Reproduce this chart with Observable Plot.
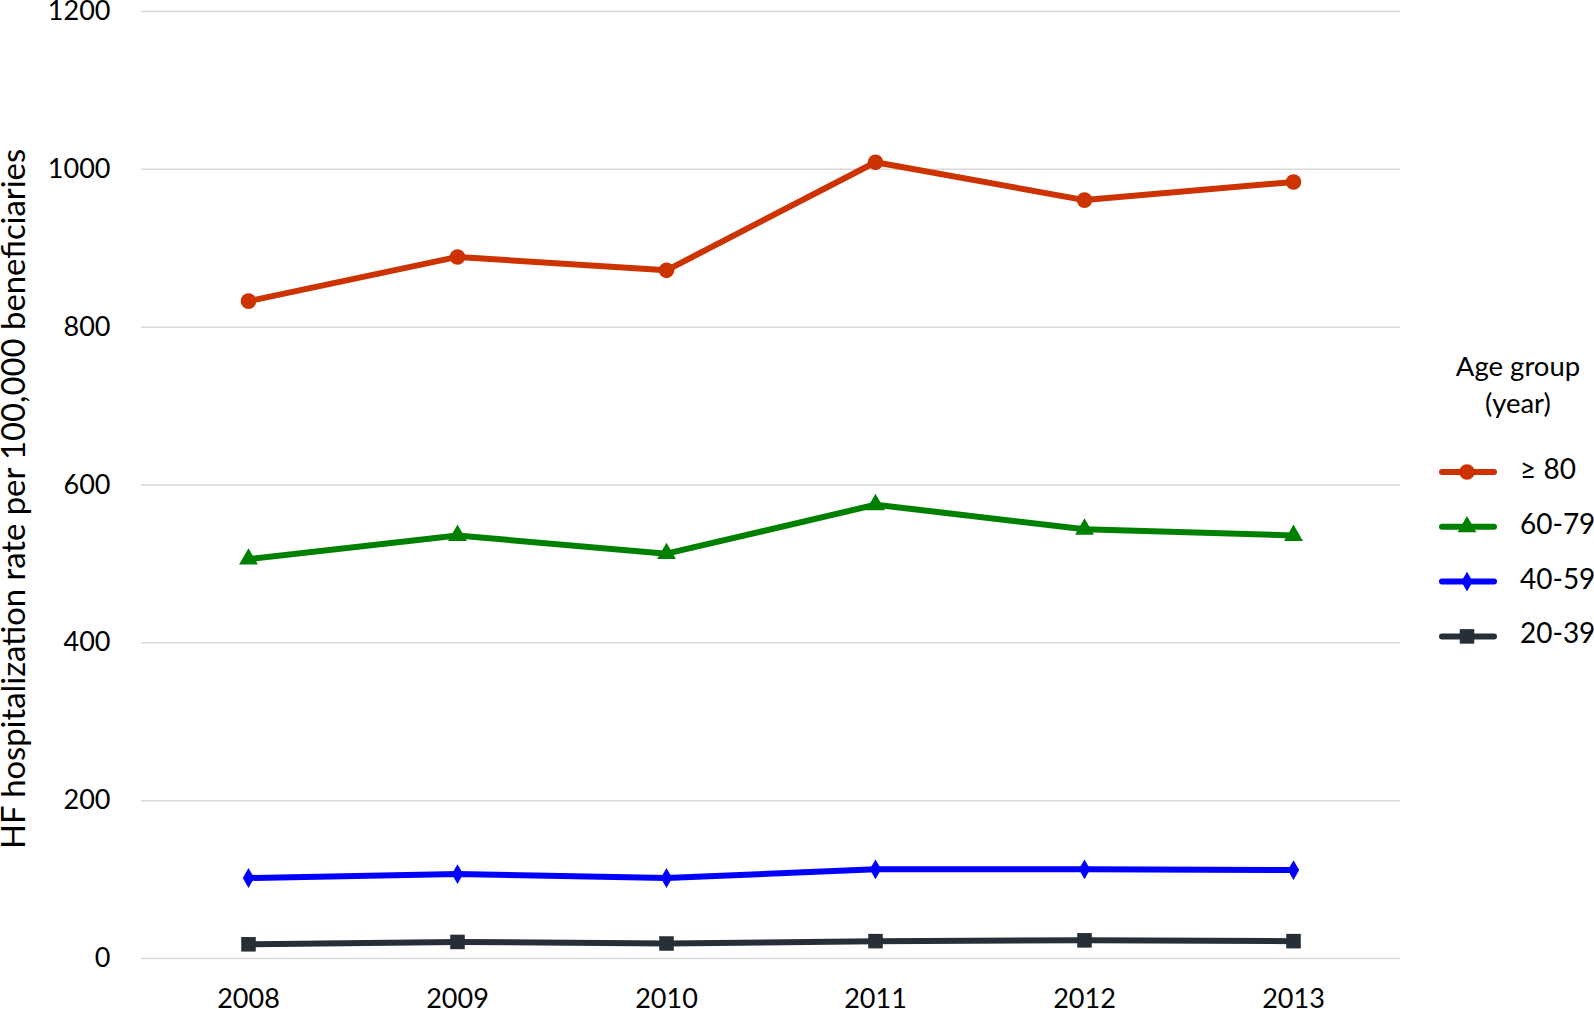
<!DOCTYPE html>
<html>
<head>
<meta charset="utf-8">
<script src="https://cdn.jsdelivr.net/npm/d3@7"></script>
<script src="https://cdn.jsdelivr.net/npm/@observablehq/plot@0.6"></script>
<style>
  body { margin: 0; background: #fff; }
  #wrap { position: relative; width: 1594px; height: 1009px; overflow: hidden; font-family: Lato, "Open Sans", sans-serif; }
  #legend { position: absolute; left: 1420px; top: 330px; }
</style>
</head>
<body>
<div id="wrap"></div>
<script>
// ---- data ----
const years = ["2008", "2009", "2010", "2011", "2012", "2013"];
const ge80   = [833, 889, 872, 1009, 961, 984];
const a60_79 = [506, 536, 513, 575, 544, 536];
const a40_59 = [102, 107, 102, 113, 113, 112];
const a20_39 = [18, 21, 19, 22, 23, 22];
const groupNames  = ["≥ 80", "60-79", "40-59", "20-39"];
const groupColors = ["#CC3300", "#008000", "#0000FF", "#262E38"];
const groupSymbols = ["circle", "triangle", "diamond", "square"];
const groupR = [7.8, 7, 6, 8.2];
const yTicks = [0, 200, 400, 600, 800, 1000, 1200];
const yLabel = "HF hospitalization rate per 100,000 beneficiaries";
const legendTitle = ["Age group", "(year)"];

const seriesValues = [ge80, a60_79, a40_59, a20_39];
const series = groupNames.map((name, k) => ({
  name,
  color: groupColors[k],
  symbol: groupSymbols[k],
  r: groupR[k],
  rows: years.map((yr, i) => ({year: yr, value: seriesValues[k][i], group: name}))
}));

const marks = [
  Plot.gridY(yTicks, {stroke: "#d9d9d9", strokeOpacity: 1, strokeWidth: 1.5}),
  Plot.axisY(yTicks, {tickSize: 0, tickPadding: 31, label: null, fontSize: 27, tickFormat: d => String(d)}),
  Plot.axisX({tickSize: 0, tickPadding: 30, label: null, fontSize: 27}),
  Plot.text([yLabel], {frameAnchor: "left", textAnchor: "middle", rotate: -90, dx: -127, dy: 14, fontSize: 32.8, fill: "#000", text: d => d})
];
for (const s of series) {
  marks.push(Plot.line(s.rows, {x: "year", y: "value", stroke: s.color, strokeWidth: 6}));
  marks.push(Plot.dot(s.rows, {x: "year", y: "value", fill: s.color, symbol: s.symbol, r: s.r, stroke: "none"}));
}

const chart = Plot.plot({
  width: 1594,
  height: 1009,
  marginLeft: 141,
  marginRight: 194,
  marginTop: 11,
  marginBottom: 51,
  style: {fontFamily: "Lato, 'Open Sans', sans-serif", color: "#000", background: "#fff", overflow: "visible"},
  x: {type: "point", domain: years, padding: 0.5},
  y: {domain: [0, 1200]},
  marks
});
document.getElementById("wrap").appendChild(chart);

// ---- legend ----
const lg = d3.select("#wrap").append("svg")
  .attr("id", "legend")
  .attr("width", 174).attr("height", 330)
  .style("font-family", "Lato, 'Open Sans', sans-serif");
legendTitle.forEach((t, i) => {
  lg.append("text").attr("x", 98).attr("y", 39 + i * 37)
    .attr("text-anchor", "middle").attr("dominant-baseline", "middle")
    .attr("font-size", 27.5).attr("fill", "#000").text(t);
});
series.forEach((s, i) => {
  const y = 142 + i * 54.8;
  const g = lg.append("g");
  g.append("line").attr("x1", 22).attr("x2", 74).attr("y1", y).attr("y2", y)
    .attr("stroke", s.color).attr("stroke-width", 6).attr("stroke-linecap", "round");
  const sym = {circle: d3.symbolCircle, triangle: d3.symbolTriangle, diamond: d3.symbolDiamond, square: d3.symbolSquare}[s.symbol];
  g.append("path").attr("transform", `translate(47,${y})`)
    .attr("d", d3.symbol(sym, s.r * s.r * Math.PI)()).attr("fill", s.color);
  g.append("text").attr("x", 100).attr("y", y).attr("dominant-baseline", "middle")
    .attr("font-size", 28).attr("fill", "#000").text(s.name);
});
</script>
</body>
</html>
